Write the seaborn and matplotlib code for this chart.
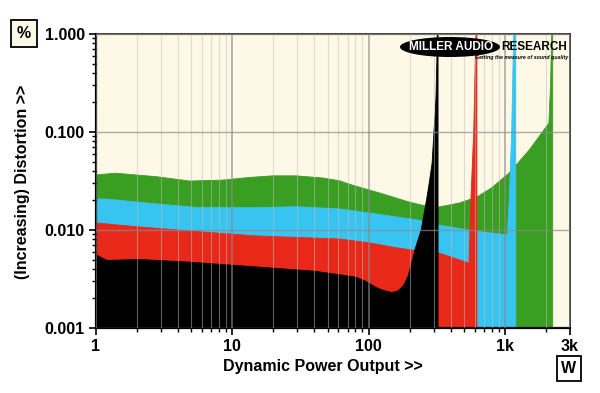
import numpy as np
import matplotlib
matplotlib.use('Agg')
import matplotlib.pyplot as plt
from matplotlib.patches import Ellipse
from matplotlib.ticker import FixedLocator, NullFormatter
import seaborn as sns

# distortion (%) vs dynamic power output (W)
green_w = [1, 1.38, 2.78, 4.87, 8.5, 13.4, 19.8, 29.4, 45.7, 61, 76, 101, 120, 198,
           265, 330, 460, 623, 800, 1070, 1500, 2100, 2160, 2215, 2240, 2240]
green_pct = [0.0364, 0.038, 0.035, 0.0316, 0.0323, 0.0344, 0.0357, 0.0357, 0.034, 0.0318,
             0.0287, 0.0256, 0.0239, 0.0193, 0.0175, 0.0172, 0.0188, 0.0217, 0.027, 0.038,
             0.065, 0.123, 0.3, 1.5, 1.5, 1e-5]

blue_w = [1, 1.2, 2.94, 5.76, 15, 29.4, 61, 101, 234, 330, 545, 623, 1040, 1075,
          1120, 1165, 1200, 1200]
blue_pct = [0.0207, 0.0207, 0.0183, 0.0169, 0.0169, 0.0173, 0.0164, 0.0149, 0.0126,
            0.0112, 0.0100, 0.0097, 0.0089, 0.02, 0.1, 1.5, 1.5, 1e-5]

red_w = [1, 1.98, 5.76, 15, 61, 101, 158, 200, 330, 545, 562, 590, 615, 623, 623]
red_pct = [0.0118, 0.0108, 0.0096, 0.0087, 0.0081, 0.0074, 0.0066, 0.0063, 0.0058,
           0.0046, 0.02, 0.1, 1.5, 1.5, 1e-5]

black_w = [1, 1.1, 1.2, 2.1, 4.87, 15, 40, 61, 81, 95, 113, 130, 149, 165, 180, 195,
           205, 220, 243, 258, 268, 280, 292, 302, 308, 312, 317, 320, 323, 323]
black_pct = [0.0056, 0.0052, 0.0049, 0.0050, 0.0047, 0.0042, 0.0038, 0.0035, 0.0033,
             0.0030, 0.0026, 0.0024, 0.0023, 0.0024, 0.0027, 0.0034, 0.0044, 0.0065,
             0.010, 0.016, 0.0217, 0.032, 0.048, 0.105, 0.16, 0.228, 0.58, 1.5, 1.5, 1e-5]

series = [(green_w, green_pct, '#3a9e23'),
          (blue_w, blue_pct, '#38c4f0'),
          (red_w, red_pct, '#e8291a'),
          (black_w, black_pct, '#000000')]

x_ticks = [1, 10, 100, 1000, 3000]
x_labels = ['1', '10', '100', '1k', '3k']
y_ticks = [0.001, 0.01, 0.1, 1.0]
y_labels = ['0.001', '0.010', '0.100', '1.000']

sns.set_theme(style='white')
plt.rcParams['font.family'] = ['Liberation Sans', 'DejaVu Sans']
plt.rcParams['font.weight'] = 'bold'
for k in ['text.color', 'axes.labelcolor', 'xtick.color', 'ytick.color']:
    plt.rcParams[k] = 'black'

fig = plt.figure(figsize=(6, 3.93), dpi=100)
ax = fig.add_axes([96 / 600, 1 - 328 / 393, (570 - 96) / 600, (328 - 34) / 393])
ax.set_facecolor('#fdf9e6')

for w, pct, col in series:
    ax.fill_between(w, pct, 1e-5, color=col, lw=0, zorder=1)
    sns.lineplot(x=w, y=pct, estimator=None, sort=False, color=col, lw=0.6, ax=ax, zorder=1)

ax.set_xscale('log')
ax.set_yscale('log')
ax.set_xlim(1, 3000)
ax.set_ylim(0.001, 1.0)

ax.xaxis.set_major_locator(FixedLocator(x_ticks))
ax.set_xticklabels(x_labels)
minor_x = [m * 10 ** d for d in range(0, 4) for m in range(2, 10) if m * 10 ** d < 3000]
ax.xaxis.set_minor_locator(FixedLocator(minor_x))
ax.xaxis.set_minor_formatter(NullFormatter())
ax.yaxis.set_major_locator(FixedLocator(y_ticks))
ax.set_yticklabels(y_labels)
minor_y = [m * 10 ** d for d in range(-3, 0) for m in range(2, 10)]
ax.yaxis.set_minor_locator(FixedLocator(minor_y))
ax.yaxis.set_minor_formatter(NullFormatter())

ax.set_axisbelow(False)
ax.grid(False)
ax.xaxis.grid(True, which='minor', color='#bdbdbd', alpha=0.5, lw=0.8)
ax.xaxis.grid(True, which='major', color='#8a8a8a', alpha=0.7, lw=1.2)
ax.yaxis.grid(True, which='major', color='#8a8a8a', alpha=0.7, lw=1.0)

ax.tick_params(axis='both', which='major', direction='out', length=5, width=1.2,
               color='black', labelcolor='black', labelsize=11.5, pad=3,
               bottom=True, left=True)
ax.tick_params(axis='both', which='minor', direction='out', length=3, width=1,
               color='black', bottom=True, left=True)
for lab in ax.get_xticklabels() + ax.get_yticklabels():
    lab.set_fontweight('bold')

for side in ['left', 'bottom']:
    ax.spines[side].set_color('black')
    ax.spines[side].set_linewidth(1.6)
for side in ['top', 'right']:
    ax.spines[side].set_color('#333333')
    ax.spines[side].set_linewidth(1.3)

fig.text(23 / 600, 1 - 182 / 393, '(Increasing) Distortion >>', rotation=90,
         ha='center', va='center', fontsize=11.5, fontweight='bold', color='black')
fig.text(323 / 600, 1 - 366 / 393, 'Dynamic Power Output >>',
         ha='center', va='center', fontsize=11.5, fontweight='bold', color='black')

fig.text(24 / 600, 1 - 33.5 / 393, '%', ha='center', va='center', fontsize=11.5,
         fontweight='bold', color='black',
         bbox=dict(boxstyle='square,pad=0.4', fc='#fdf9e6', ec='black', lw=1.3))
fig.text(569 / 600, 1 - 368.5 / 393, 'W', ha='center', va='center', fontsize=11.5,
         fontweight='bold', color='black',
         bbox=dict(boxstyle='square,pad=0.3', fc='white', ec='black', lw=1.3))

# logo
fig.patches.append(Ellipse((450 / 600, 1 - 47 / 393), 100 / 600, 20 / 393,
                           transform=fig.transFigure, fc='black', ec='none', zorder=5))
fig.text(451 / 600, 1 - 46.5 / 393, 'MILLER AUDIO', ha='center', va='center',
         color='white', fontsize=8.5, fontweight='heavy', zorder=6)
fig.text(501 / 600, 1 - 46.5 / 393, 'RESEARCH', ha='left', va='center',
         color='black', fontsize=8.5, fontweight='heavy', zorder=6)
fig.text(568 / 600, 1 - 57 / 393, 'Getting the measure of sound quality', ha='right',
         va='center', color='black', fontsize=3.8, fontweight='bold', style='italic',
         zorder=6)

fig.savefig('out.png', dpi=100, facecolor='white')
